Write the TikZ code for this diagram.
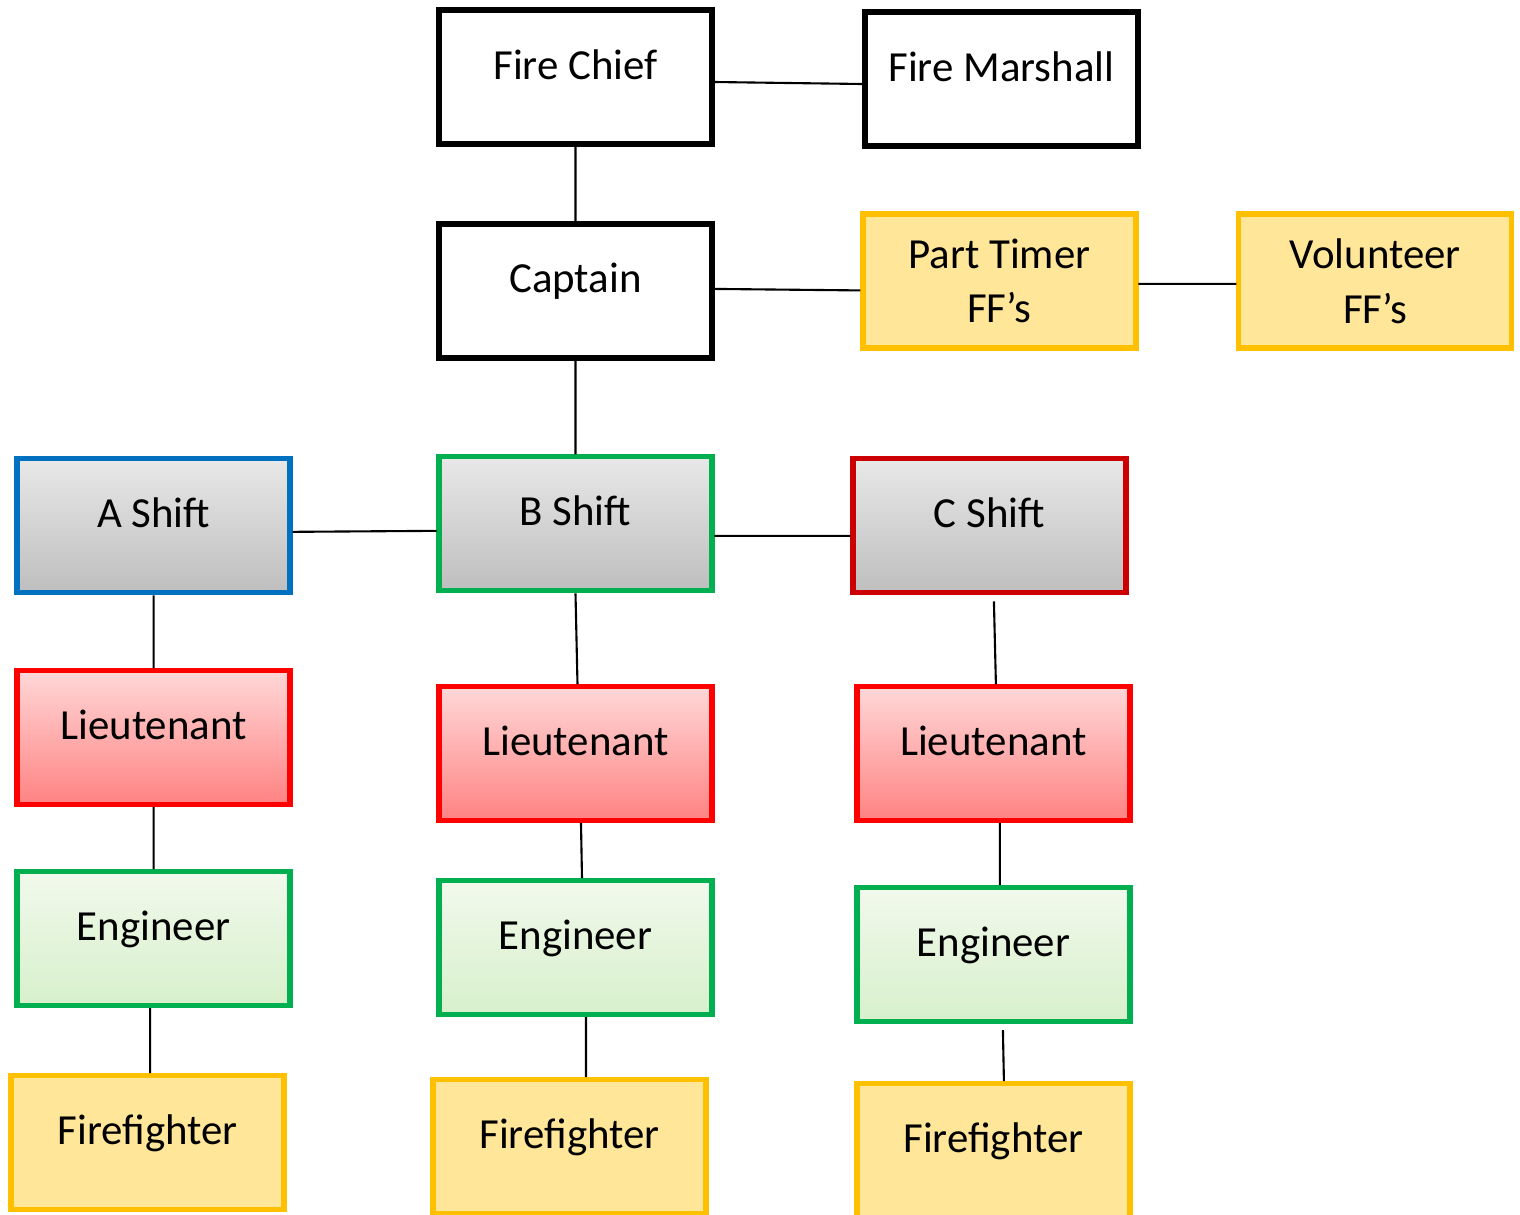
\documentclass[tikz,border=0pt]{standalone}
\usepackage{fontspec}
\setmainfont{Carlito}
\usepackage{tikz}
\usetikzlibrary{positioning}

\definecolor{boxblue}{HTML}{0070C0}
\definecolor{boxgreen}{HTML}{00B050}
\definecolor{boxdarkred}{HTML}{CC0000}
\definecolor{boxred}{HTML}{FF0000}
\definecolor{boxorange}{HTML}{FFC000}
\definecolor{fillyellow}{HTML}{FFE699}
\definecolor{graytop}{HTML}{E8E8E8}
\definecolor{graymid}{HTML}{E2E2E2}
\definecolor{graybot}{HTML}{BEBEBE}
\definecolor{pinktop}{HTML}{FFD7D7}
\definecolor{pinkbot}{HTML}{FF8282}
\definecolor{greentop}{HTML}{F1F9EC}
\definecolor{greenbot}{HTML}{D7F0CB}

\tikzset{
    box/.style={rectangle, minimum width=2.73cm, minimum height=1.34cm,
        line width=1.5pt, outer sep=0.7pt, inner sep=0pt, font=\fontsize{12.2}{15.6}\selectfont},
    oneline/.style={text height=3mm, text depth=2.6mm},
    plainbox/.style={box, oneline, line width=1.75pt, draw=black, fill=white},
    extrabox/.style={box, align=center, draw=boxorange, fill=fillyellow},
    shiftbox/.style={box, oneline, top color=graytop, middle color=graymid, bottom color=graybot},
    ltbox/.style={box, oneline, draw=boxred, top color=pinktop, bottom color=pinkbot},
    engbox/.style={box, oneline, draw=boxgreen, top color=greentop, bottom color=greenbot},
    ffbox/.style={box, oneline, draw=boxorange, fill=fillyellow},
    link/.style={line width=0.6pt}
}

\begin{document}
\begin{tikzpicture}
        \useasboundingbox[fill=white] (0,0) rectangle (15.2,-12.15);

        % Draw the top of the chart
        \node[plainbox] (chief) at (5.755,-0.77) {Fire Chief};
        \node[plainbox, right=1.48cm of chief, yshift=-0.2mm] (marshall) {Fire Marshall};
        \node[plainbox, below=0.75cm of chief] (captain) {Captain};
        \node[extrabox, right=1.46cm of captain, yshift=1mm] (parttime) {Part Timer\\FF’s};
        \node[extrabox, right=0.98cm of parttime] (volunteer) {Volunteer\\FF’s};

        % Draw the shifts
        \node[shiftbox, draw=boxgreen, below=0.94cm of captain] (bshift) {B Shift};
        \node[shiftbox, draw=boxblue, left=1.44cm of bshift, yshift=-0.2mm] (ashift) {A Shift};
        \node[shiftbox, draw=boxdarkred, right=1.36cm of bshift, yshift=-0.2mm] (cshift) {C Shift};

        % Draw the crews under each shift
        \node[ltbox, below=0.73cm of ashift] (lta) {Lieutenant};
        \node[ltbox, below=0.91cm of bshift] (ltb) {Lieutenant};
        \node[ltbox, below=0.89cm of cshift, xshift=0.4mm] (ltc) {Lieutenant};
        \node[engbox, below=0.62cm of lta] (enga) {Engineer};
        \node[engbox, below=0.55cm of ltb] (engb) {Engineer};
        \node[engbox, below=0.62cm of ltc] (engc) {Engineer};
        \node[ffbox, below=0.65cm of enga, xshift=-0.6mm] (ffa) {Firefighter};
        \node[ffbox, below=0.60cm of engb, xshift=-0.6mm] (ffb) {Firefighter};
        \node[ffbox, below=0.57cm of engc] (ffc) {Firefighter};

        % Connect the boxes
        \draw[link]
            ([yshift=-0.5mm]chief.east) -- ([yshift=-0.5mm]marshall.west)
            (chief.south) -- (captain.north)
            ([yshift=0.2mm]captain.east) -- ([yshift=-0.95mm]parttime.west)
            ([yshift=-0.3mm]parttime.east) -- ([yshift=-0.3mm]volunteer.west)
            (captain.south) -- (bshift.north)
            ([yshift=-0.6mm]ashift.east) -- ([yshift=-0.7mm]bshift.west)
            ([yshift=-1.2mm]bshift.east) -- ([yshift=-1mm]cshift.west)
            (ashift.south) -- (lta.north)
            (bshift.south) -- ([xshift=0.2mm]ltb.north)
            ([xshift=0.45mm,yshift=-0.6mm]cshift.south) -- ([xshift=0.25mm]ltc.north)
            (lta.south) -- (enga.north)
            ([xshift=0.55mm]ltb.south) -- ([xshift=0.65mm]engb.north)
            ([xshift=0.65mm]ltc.south) -- ([xshift=0.65mm]engc.north)
            ([xshift=-0.35mm]enga.south) -- ([xshift=0.25mm]ffa.north)
            ([xshift=1.05mm]engb.south) -- ([xshift=1.65mm]ffb.north)
            ([xshift=0.95mm,yshift=-0.6mm]engc.south) -- ([xshift=1.05mm]ffc.north);
    \end{tikzpicture}
\end{document}
